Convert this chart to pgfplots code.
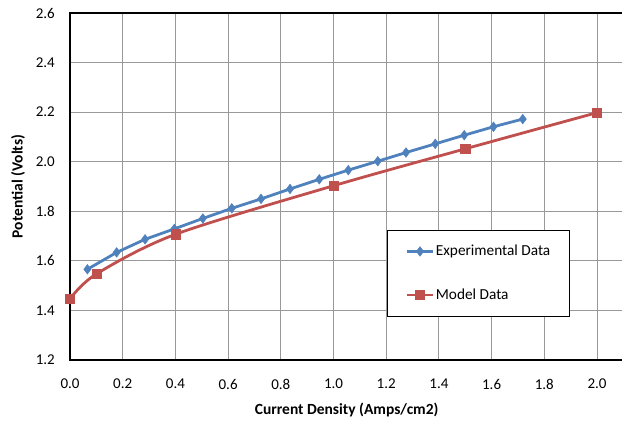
\documentclass[border=0pt]{standalone}
\usepackage{fontspec}
\setmainfont{Carlito}
\usepackage{pgfplots}
\pgfplotsset{compat=1.18}
\definecolor{exblue}{HTML}{4F81BD}
\definecolor{modred}{HTML}{C0504D}
\begin{document}
\begin{tikzpicture}
\begin{axis}[
  at={(0pt,0pt)}, anchor=south west,
  scale only axis, width=553.4pt, height=347pt,
  xmin=0, xmax=2.1, ymin=1.2, ymax=2.6,
  xtick={0,0.2,0.4,0.6,0.8,1.0,1.2,1.4,1.6,1.8,2.0},
  ytick={1.2,1.4,1.6,1.8,2.0,2.2,2.4,2.6},
  /pgf/number format/fixed,
  /pgf/number format/fixed zerofill,
  /pgf/number format/precision=1,
  /pgf/number format/assume math mode=true,
  grid=major, major grid style={color=black!40, line width=0.9pt},
  major tick length=0pt,
  axis line style={line width=1.1pt},
  font=\fontsize{15}{18}\selectfont,
  yticklabel style={inner sep=0pt, xshift=-15pt},
  xticklabel style={inner sep=0pt, yshift=-24pt, anchor=center},
  xlabel={\textbf{Current Density (Amps/cm2)}},
  ylabel={\textbf{Potential (Volts)}},
  xlabel style={at={(axis description cs:0.5,0)}, anchor=center, yshift=-50pt,
    font=\fontsize{15.5}{18}\selectfont},
  ylabel style={at={(axis description cs:0,0.5)}, anchor=center, yshift=52pt,
    font=\fontsize{15.5}{18}\selectfont},
  legend cell align=left,
  legend style={at={(0.573,0.375)}, anchor=north west, draw=black, line width=1pt,
    inner xsep=18pt, inner ysep=13.5pt, row sep=28.5pt,
    nodes={inner sep=1.5pt}, font=\fontsize{15.3}{18}\selectfont},
  legend image code/.code={\draw[mark repeat=2, mark phase=2, #1]
    plot coordinates {(0pt,0pt) (13pt,0pt) (26pt,0pt)};},
]
\addplot[color=exblue, line width=2.8pt, mark=diamond*, mark size=4.8pt,
  mark options={line width=0.5pt}] coordinates {
  (0.066,1.566)(0.177,1.634)(0.285,1.687)(0.396,1.729)
  (0.504,1.771)(0.614,1.812)(0.725,1.850)(0.835,1.890)
  (0.946,1.929)(1.056,1.966)(1.168,2.002)(1.275,2.037)
  (1.386,2.072)(1.496,2.107)(1.607,2.141)(1.718,2.172)
};
\addlegendentry{Experimental Data}
\addplot[color=modred, line width=2.8pt, smooth, mark=square*, mark size=4.6pt,
  mark options={line width=0.5pt}] coordinates {
  (0.0,1.447)(0.1,1.547)(0.4,1.707)(1.0,1.903)(1.5,2.052)(2.0,2.198)
};
\addlegendentry{Model Data}
\end{axis}
\pgfresetboundingbox
\useasboundingbox (-70pt,-62pt) rectangle (552pt,360pt);
\end{tikzpicture}
\end{document}
